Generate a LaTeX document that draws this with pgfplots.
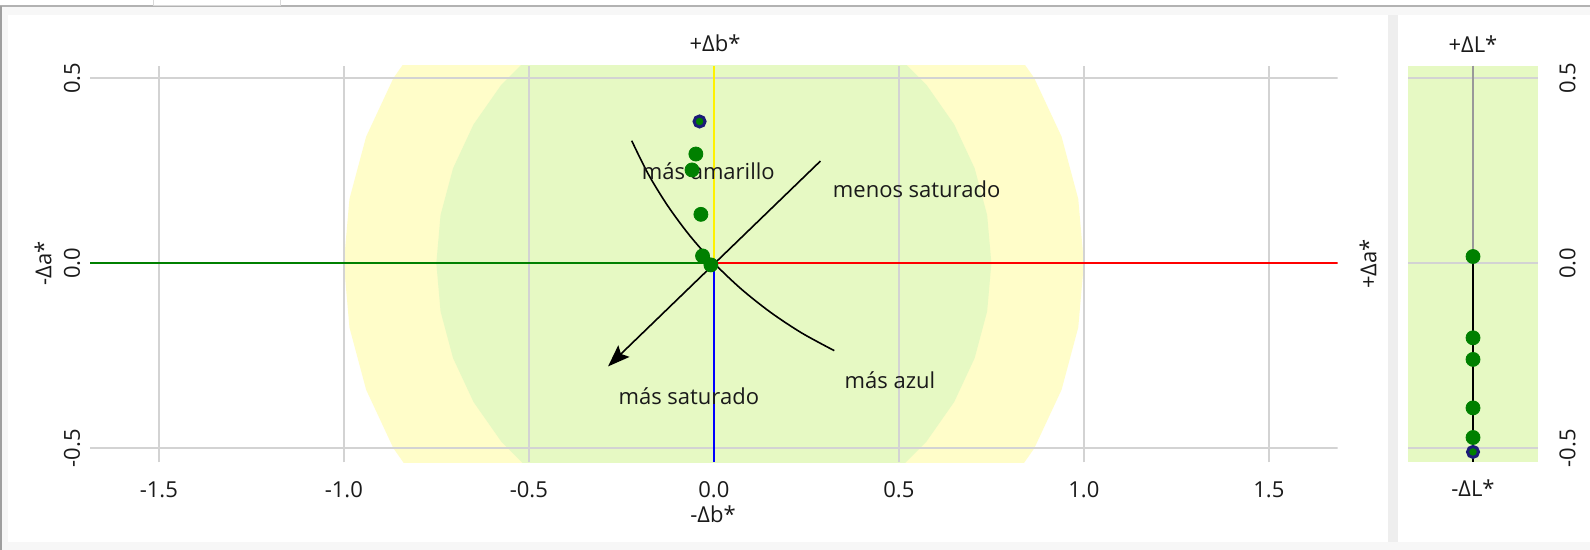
\documentclass[border=0pt]{standalone}
\usepackage{fontspec}
\setmainfont{Open Sans}
\usepackage{pgfplots}
\pgfplotsset{compat=1.18}
\usetikzlibrary{arrows.meta}
\definecolor{bgc}{HTML}{F7F7F7}
\definecolor{stripc}{HTML}{EEEEEE}
\definecolor{yel}{HTML}{FFFDC9}
\definecolor{grn}{HTML}{E6F9C3}
\definecolor{gridc}{HTML}{D3D3D3}
\definecolor{dotg}{HTML}{008000}
\definecolor{navy}{HTML}{1C1C78}
\definecolor{txt}{HTML}{1A1A1A}
\begin{document}
\fontsize{11}{13}\selectfont
\begin{tikzpicture}
\useasboundingbox (0,0) rectangle (795pt,275pt);
\fill[white] (0,0) rectangle (795pt,275pt);
\fill[bgc] (0,0) rectangle (795pt,272pt);
\draw[color=gray!60, line width=0.6pt] (0,272pt) -- (795pt,272pt);
\fill[gray!75] (0,0) rectangle (1pt,272pt);
\draw[gray!30, line width=0.5pt, fill=white] (76.5pt,276pt) rectangle (140pt,272pt);
\fill[white] (4pt,4pt) rectangle (694pt,267.5pt);
\fill[stripc] (694pt,4pt) rectangle (699.2pt,267.5pt);
\fill[white] (699.2pt,4pt) rectangle (795pt,267.5pt);

\begin{axis}[
 at={(45pt,43.85pt)}, anchor=south west,
 scale only axis, width=623.85pt, height=198.35pt,
 xmin=-1.686, xmax=1.686, ymin=-0.538, ymax=0.534,
 axis line style={draw=none},
 major tick length=0pt,
 xtick={-1.5,-1,-0.5,0,0.5,1,1.5},
 xticklabels={-1.5,-1.0,-0.5,0.0,0.5,1.0,1.5},
 ytick={-0.5,0,0.5},
 yticklabels={-0.5,0.0,0.5},
 xticklabel style={anchor=north, yshift=-5.7pt, text=txt},
 yticklabel style={xshift=-1pt, rotate=90, anchor=south, text=txt},
]
\addplot[fill=yel, draw=none] coordinates {
(1,0) (0.9848,0.1736) (0.9397,0.3420) (0.8660,0.5) (0.7660,0.6428) (0.6428,0.7660) (0.5,0.8660) (0.3420,0.9397) (0.1736,0.9848) (0,1) (-0.1736,0.9848) (-0.3420,0.9397) (-0.5,0.8660) (-0.6428,0.7660) (-0.7660,0.6428) (-0.8660,0.5) (-0.9397,0.3420) (-0.9848,0.1736) (-1,0) (-0.9848,-0.1736) (-0.9397,-0.3420) (-0.8660,-0.5) (-0.7660,-0.6428) (-0.6428,-0.7660) (-0.5,-0.8660) (-0.3420,-0.9397) (-0.1736,-0.9848) (0,-1) (0.1736,-0.9848) (0.3420,-0.9397) (0.5,-0.8660) (0.6428,-0.7660) (0.7660,-0.6428) (0.8660,-0.5) (0.9397,-0.3420) (0.9848,-0.1736) (1,0)};
\addplot[fill=grn, draw=none] coordinates {
(0.75,0) (0.7386,0.1302) (0.7048,0.2565) (0.6495,0.375) (0.5745,0.4821) (0.4821,0.5745) (0.375,0.6495) (0.2565,0.7048) (0.1302,0.7386) (0,0.75) (-0.1302,0.7386) (-0.2565,0.7048) (-0.375,0.6495) (-0.4821,0.5745) (-0.5745,0.4821) (-0.6495,0.375) (-0.7048,0.2565) (-0.7386,0.1302) (-0.75,0) (-0.7386,-0.1302) (-0.7048,-0.2565) (-0.6495,-0.375) (-0.5745,-0.4821) (-0.4821,-0.5745) (-0.375,-0.6495) (-0.2565,-0.7048) (-0.1302,-0.7386) (0,-0.75) (0.1302,-0.7386) (0.2565,-0.7048) (0.375,-0.6495) (0.4821,-0.5745) (0.5745,-0.4821) (0.6495,-0.375) (0.7048,-0.2565) (0.7386,-0.1302) (0.75,0)};
% grid lines
\addplot[gridc, line width=1pt] coordinates {(-1.5,-0.538) (-1.5,0.534)};
\addplot[gridc, line width=1pt] coordinates {(-1,-0.538) (-1,0.534)};
\addplot[gridc, line width=1pt] coordinates {(-0.5,-0.538) (-0.5,0.534)};
\addplot[gridc, line width=1pt] coordinates {(0.5,-0.538) (0.5,0.534)};
\addplot[gridc, line width=1pt] coordinates {(1,-0.538) (1,0.534)};
\addplot[gridc, line width=1pt] coordinates {(1.5,-0.538) (1.5,0.534)};
\addplot[gridc, line width=1pt] coordinates {(-1.686,0.5) (1.686,0.5)};
\addplot[gridc, line width=1pt] coordinates {(-1.686,-0.5) (1.686,-0.5)};
% colored axes
\addplot[dotg, line width=0.9pt] coordinates {(-1.686,0) (0,0)};
\addplot[red, line width=0.9pt] coordinates {(0,0) (1.686,0)};
\addplot[yellow, line width=1pt] coordinates {(0,0) (0,0.534)};
\addplot[blue, line width=0.9pt] coordinates {(0,0) (0,-0.538)};
\addplot[black, line width=0.8pt, smooth] coordinates {(-0.222,0.331) (-0.1774,0.2410) (-0.1248,0.1553) (-0.0650,0.0744) (0.0016,-0.0010) (0.0745,-0.0702) (0.1533,-0.1328) (0.2372,-0.1884) (0.3255,-0.2363)};
\addplot[black, line width=0.8pt, -{Stealth[length=11pt,width=8pt,inset=2pt]}] coordinates {(0.288,0.276) (-0.286,-0.279)};
\node[text=txt, inner sep=0pt] at (axis cs:-0.015,0.249) {más amarillo};
\node[text=txt, inner sep=0pt] at (axis cs:0.548,0.199) {menos saturado};
\node[text=txt, inner sep=0pt] at (axis cs:-0.0676,-0.358) {más saturado};
\node[text=txt, inner sep=0pt] at (axis cs:0.476,-0.315) {más azul};
\addplot[dotg, only marks, mark=*, mark size=3.5pt] coordinates {(-0.0486,0.295) (-0.059,0.252) (-0.035,0.132) (-0.0305,0.0197) (-0.008,-0.0046)};
\addplot[navy, only marks, mark=*, mark size=2.75pt, mark options={fill=dotg, line width=1.5pt}] coordinates {(-0.0386,0.383)};
\end{axis}

\begin{axis}[
 at={(704.15pt,43.85pt)}, anchor=south west,
 scale only axis, width=64.7pt, height=198.35pt,
 xmin=-1, xmax=1, ymin=-0.538, ymax=0.534,
 axis background/.style={fill=grn},
 axis line style={draw=none}, major tick length=0pt,
 xtick=\empty, ytick={-0.5,0,0.5}, yticklabels={-0.5,0.0,0.5},
 ymajorgrids, grid style={gridc, line width=1pt},
 yticklabel pos=right,
 yticklabel style={xshift=7pt, rotate=90, anchor=north, text=txt},
]
\addplot[gray!80, line width=1pt] coordinates {(0,0.534) (0,0.018)};
\addplot[black, line width=1pt] coordinates {(0,0.018) (0,-0.538)};
\addplot[dotg, only marks, mark=*, mark size=3.5pt] coordinates {(0,0.018) (0,-0.2016) (0,-0.26) (0,-0.391) (0,-0.471)};
\addplot[navy, only marks, mark=*, mark size=2.75pt, mark options={fill=dotg, line width=1.5pt}] coordinates {(0,-0.51)};
\end{axis}

\node[text=txt, inner sep=0pt] at (357.5pt,253.5pt) {+Δb*};
\node[text=txt, inner sep=0pt] at (356.5pt,18pt) {-Δb*};
\node[text=txt, inner sep=0pt, rotate=90] at (21.5pt,143.3pt) {-Δa*};
\node[text=txt, inner sep=0pt, rotate=90] at (684pt,143pt) {+Δa*};
\node[text=txt, inner sep=0pt] at (736.5pt,253pt) {+ΔL*};
\node[text=txt, inner sep=0pt] at (736.5pt,31pt) {-ΔL*};
\end{tikzpicture}
\end{document}
